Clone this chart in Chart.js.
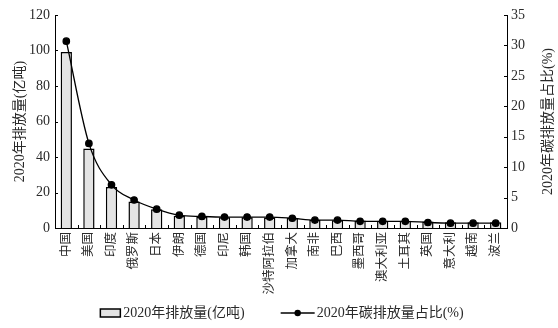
<!DOCTYPE html>
<html>
<head>
<meta charset="utf-8">
<script src="https://cdn.jsdelivr.net/npm/chart.js@4"></script>
<style>
  html, body { margin: 0; padding: 0; background: #fff; }
  #wrap { width: 558px; height: 328px; }
</style>
</head>
<body>
<div id="wrap"><canvas id="graph"></canvas></div>
<script>
const countries = ['中国','美国','印度','俄罗斯','日本','伊朗','德国','印尼','韩国','沙特阿拉伯',
                   '加拿大','南非','巴西','墨西哥','澳大利亚','土耳其','英国','意大利','越南','波兰'];
// 2020年排放量 (亿吨)
const emissions = [99.2, 44.8, 23.1, 15.0, 10.5, 6.9, 6.3, 6.0, 6.0, 5.9,
                   5.6, 4.6, 4.4, 4.2, 4.1, 4.1, 3.6, 3.2, 3.2, 3.2];
// 2020年碳排放量占比 (%)
const shares = [30.7, 13.9, 7.1, 4.6, 3.1, 2.1, 1.9, 1.8, 1.8, 1.8,
                1.6, 1.3, 1.3, 1.1, 1.1, 1.1, 0.9, 0.8, 0.8, 0.8];
const leftTicks = [0, 20, 40, 60, 80, 100, 120];
const rightTicks = [0, 5, 10, 15, 20, 25, 30, 35];
const barLabel = '2020年排放量(亿吨)';
const lineLabel = '2020年碳排放量占比(%)';

const FONT = "'Liberation Serif', 'Noto Sans CJK SC', serif";
const TEXT = '#2a2a2a';

// inward tick marks, right axis title and the legend
const extras = {
    id: 'extras',
    afterDraw(chart) {
        const ctx = chart.ctx;
        const { x, y, y1 } = chart.scales;
        const area = chart.chartArea;
        ctx.save();
        ctx.strokeStyle = '#000';
        ctx.lineWidth = 1;
        ctx.beginPath();
        y.ticks.forEach((t, i) => {
            const py = Math.round(y.getPixelForTick(i)) + 0.5;
            ctx.moveTo(y.right, py); ctx.lineTo(y.right + 3, py);
        });
        y1.ticks.forEach((t, i) => {
            const py = Math.round(y1.getPixelForTick(i)) + 0.5;
            ctx.moveTo(y1.left, py); ctx.lineTo(y1.left - 3, py);
        });
        for (let i = 1; i < countries.length; i++) {
            const px = Math.round(x.getPixelForValue(i - 0.5)) + 0.5;
            ctx.moveTo(px, x.top); ctx.lineTo(px, x.top - 3);
        }
        ctx.stroke();

        // right title, reads bottom to top
        ctx.font = '14px ' + FONT;
        ctx.fillStyle = TEXT;
        ctx.textAlign = 'center';
        ctx.textBaseline = 'middle';
        ctx.translate(y1.right - 10, (area.top + area.bottom) / 2);
        ctx.rotate(-Math.PI / 2);
        ctx.fillText(lineLabel, 0, 0);
        ctx.setTransform(1, 0, 0, 1, 0, 0);

        // legend
        const w1 = ctx.measureText(barLabel).width;
        const w2 = ctx.measureText(lineLabel).width;
        const total = 20 + 3 + w1 + 36 + 34 + 2 + w2;
        let lx = chart.width / 2 + 3 - total / 2;
        const ly = chart.height - 15;
        ctx.textAlign = 'left';
        ctx.fillStyle = '#e4e4e4';
        ctx.fillRect(lx, ly - 4, 20, 8);
        ctx.lineWidth = 1.5;
        ctx.strokeRect(lx, ly - 4, 20, 8);
        ctx.fillStyle = TEXT;
        ctx.fillText(barLabel, lx + 23, ly);
        lx += 23 + w1 + 36;
        ctx.lineWidth = 1.3;
        ctx.beginPath(); ctx.moveTo(lx, ly); ctx.lineTo(lx + 34, ly); ctx.stroke();
        ctx.fillStyle = '#000';
        ctx.beginPath(); ctx.arc(lx + 17, ly, 3.2, 0, Math.PI * 2); ctx.fill();
        ctx.fillStyle = TEXT;
        ctx.fillText(lineLabel, lx + 36, ly);
        ctx.restore();
    }
};

const ctx = document.getElementById('graph').getContext('2d');
const chart = new Chart(ctx, {
    data: {
        labels: countries,
        datasets: [{
            type: 'line',
            label: lineLabel,
            data: shares,
            yAxisID: 'y1',
            borderColor: '#000',
            borderWidth: 1.3,
            backgroundColor: '#000',
            pointRadius: 3.2,
            pointHoverRadius: 3.2,
            cubicInterpolationMode: 'monotone',
            order: 0
        }, {
            type: 'bar',
            label: barLabel,
            data: emissions,
            yAxisID: 'y',
            backgroundColor: '#e4e4e4',
            borderColor: '#000',
            borderWidth: 1.5,
            barPercentage: 0.5,
            categoryPercentage: 1.0,
            order: 1
        }]
    },
    options: {
        responsive: true,
        maintainAspectRatio: false,
        animation: false,
        layout: { padding: { top: 15, bottom: 28, left: 12, right: 0 } },
        scales: {
            x: {
                grid: { display: false, drawTicks: false },
                border: { display: true, color: '#000', width: 1 },
                ticks: {
                    color: TEXT, autoSkip: false, minRotation: 90, maxRotation: 90, padding: 4,
                    font: { family: FONT, size: 12.5 }
                },
                afterFit: (s) => { s.height = 72; }
            },
            y: {
                position: 'left',
                min: 0, max: 120,
                afterBuildTicks: (s) => { s.ticks = leftTicks.map(v => ({ value: v })); },
                grid: { display: false, drawTicks: false },
                border: { display: true, color: '#000', width: 1 },
                ticks: { color: TEXT, padding: 5, font: { family: FONT, size: 14 } },
                title: { display: true, text: barLabel, color: TEXT, padding: 0,
                         font: { family: FONT, size: 14 } },
                afterFit: (s) => { s.width = 43; }
            },
            y1: {
                position: 'right',
                min: 0, max: 35,
                afterBuildTicks: (s) => { s.ticks = rightTicks.map(v => ({ value: v })); },
                grid: { display: false, drawTicks: false },
                border: { display: true, color: '#000', width: 1 },
                ticks: { color: TEXT, padding: 4, font: { family: FONT, size: 14 } },
                afterFit: (s) => { s.width = 51; }
            }
        },
        plugins: {
            tooltip: { enabled: false },
            legend: { display: false }
        }
    },
    plugins: [extras]
});
</script>
</body>
</html>
